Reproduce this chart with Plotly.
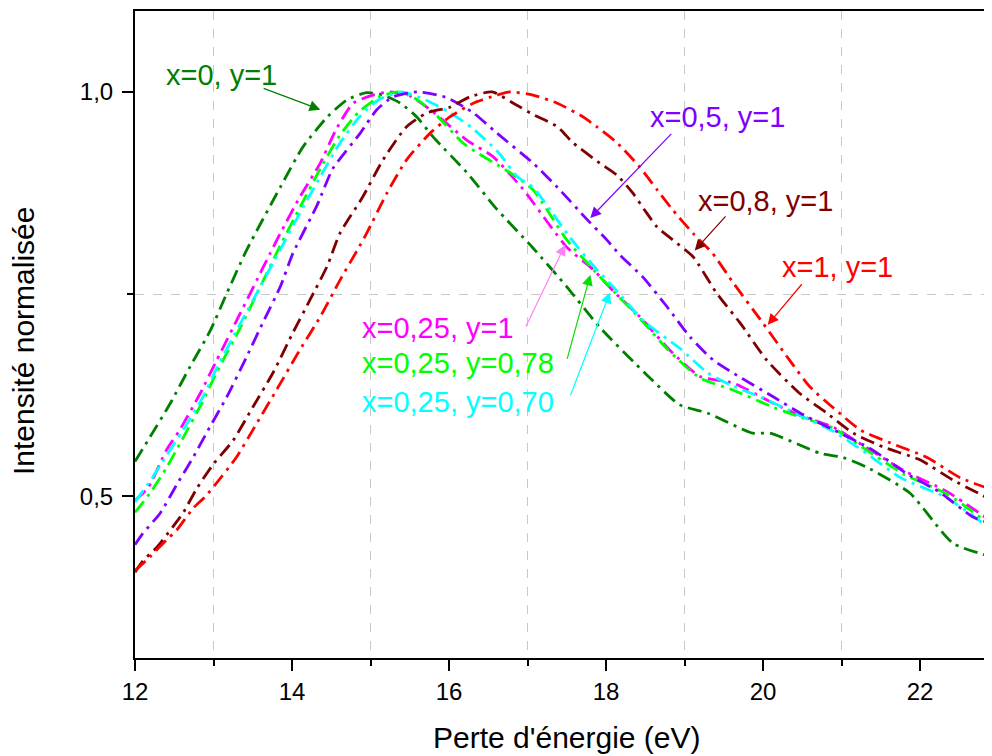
import plotly.graph_objects as go

# ---- data ----
E_x0 = [12.0, 12.19, 12.45, 12.7, 12.96, 13.17, 13.42, 13.85, 14.14, 14.45, 14.7, 14.95, 15.16, 15.38, 15.59, 15.8,
        16.23, 16.6, 17.07, 17.5, 17.92, 18.52, 18.94, 19.29, 19.87, 20.09, 20.73, 21.02, 21.32, 21.87, 22.42, 22.92]
I_x0 = [0.543, 0.573, 0.615, 0.66, 0.705, 0.751, 0.804, 0.882, 0.932, 0.969, 0.99, 0.999, 0.996, 0.986, 0.969, 0.944,
        0.90, 0.856, 0.807, 0.759, 0.709, 0.65, 0.613, 0.603, 0.578, 0.578, 0.553, 0.548, 0.536, 0.504, 0.442, 0.425]

E_x025 = [12.0, 12.17, 12.4, 12.57, 12.83, 13.04, 13.34, 13.55, 13.72, 13.85, 14.1, 14.36, 14.57, 14.78, 15.03, 15.25,
          15.5, 15.8, 16.23, 16.56, 16.94, 17.5, 17.84, 18.1, 18.43, 18.82, 19.2, 19.62, 20.13, 20.47, 20.9, 21.32,
          21.83, 22.34, 22.92]
I_x025 = [0.495, 0.511, 0.557, 0.582, 0.627, 0.668, 0.726, 0.767, 0.80, 0.825, 0.87, 0.912, 0.955, 0.986, 0.996, 1.0,
          0.995, 0.975, 0.94, 0.92, 0.88, 0.808, 0.78, 0.753, 0.722, 0.68, 0.648, 0.64, 0.615, 0.60, 0.585, 0.56,
          0.53, 0.506, 0.468]

E_x025_y078 = [12.0, 12.2, 12.4, 12.6, 12.85, 13.05, 13.35, 13.6, 13.85, 14.1, 14.36, 14.6, 14.85, 15.1, 15.35, 15.6,
               15.85, 16.2, 16.78, 17.07, 17.5, 17.84, 18.1, 18.43, 18.8, 19.2, 19.6, 20.13, 20.47, 20.9, 21.32, 21.8,
               22.34, 22.92]
I_x025_y078 = [0.48, 0.505, 0.535, 0.57, 0.615, 0.655, 0.71, 0.76, 0.81, 0.857, 0.905, 0.945, 0.975, 0.993, 1.0, 0.99,
               0.97, 0.935, 0.9, 0.879, 0.817, 0.78, 0.753, 0.72, 0.68, 0.646, 0.632, 0.61, 0.598, 0.584, 0.557, 0.527,
               0.503, 0.463]

E_x025_y070 = [12.0, 12.2, 12.4, 12.6, 12.85, 13.05, 13.35, 13.6, 13.85, 14.1, 14.36, 14.6, 14.85, 15.1, 15.4, 15.7,
               16.0, 16.3, 16.64, 16.87, 17.07, 17.29, 17.54, 17.84, 18.1, 18.5, 18.94, 19.29, 19.6, 19.96, 20.47,
               20.9, 21.32, 21.75, 22.34, 22.92]
I_x025_y070 = [0.493, 0.52, 0.55, 0.58, 0.62, 0.66, 0.715, 0.76, 0.805, 0.85, 0.895, 0.935, 0.968, 0.99, 1.0, 0.99,
               0.975, 0.955, 0.924, 0.895, 0.882, 0.854, 0.82, 0.785, 0.758, 0.715, 0.683, 0.653, 0.637, 0.623, 0.60,
               0.58, 0.553, 0.523, 0.498, 0.458]

E_x05 = [12.0, 12.1, 12.32, 12.53, 12.74, 12.95, 13.17, 13.42, 13.63, 13.85, 14.01, 14.32, 14.52, 14.87, 15.08, 15.29,
         15.6, 15.97, 16.31, 16.61, 17.07, 17.41, 17.76, 18.01, 18.18, 18.47, 18.78, 19.07, 19.37, 19.71, 20.13, 20.47,
         20.9, 21.4, 21.83, 22.25, 22.68, 22.92]
I_x05 = [0.44, 0.454, 0.479, 0.514, 0.548, 0.585, 0.623, 0.672, 0.715, 0.759, 0.80, 0.86, 0.905, 0.949, 0.978, 0.994,
         1.0, 0.993, 0.974, 0.949, 0.912, 0.879, 0.842, 0.817, 0.798, 0.771, 0.734, 0.697, 0.668, 0.647, 0.623, 0.603,
         0.582, 0.557, 0.528, 0.505, 0.474, 0.466]

E_x08 = [12.0, 12.1, 12.28, 12.48, 12.61, 12.79, 13.0, 13.25, 13.5, 13.76, 14.01, 14.23, 14.45, 14.61, 14.9, 15.16,
         15.46, 15.72, 16.01, 16.27, 16.55, 16.82, 17.07, 17.38, 17.58, 17.92, 18.14, 18.34, 18.52, 18.65, 18.85,
         19.11, 19.41, 19.71, 20.05, 20.47, 20.81, 21.15, 21.53, 22.0, 22.42, 22.92]
I_x08 = [0.406, 0.42, 0.437, 0.462, 0.479, 0.51, 0.54, 0.569, 0.61, 0.653, 0.702, 0.743, 0.785, 0.825, 0.87, 0.916,
         0.957, 0.974, 0.981, 0.994, 1.0, 0.986, 0.972, 0.957, 0.937, 0.912, 0.897, 0.875, 0.85, 0.833, 0.817,
         0.796, 0.751, 0.714, 0.668, 0.627, 0.603, 0.578, 0.561, 0.545, 0.52, 0.495]

E_x1 = [12.0, 12.19, 12.4, 12.53, 12.74, 12.89, 13.02, 13.29, 13.55, 13.8, 14.1, 14.36, 14.61, 14.83, 14.95, 15.21,
        15.46, 15.76, 16.01, 16.31, 16.61, 16.78, 17.07, 17.38, 17.71, 17.88, 18.14, 18.43, 18.65, 18.85, 19.11,
        19.36, 19.62, 20.0, 20.34, 20.6, 20.9, 21.24, 21.62, 22.09, 22.51, 22.92]
I_x1 = [0.408, 0.425, 0.446, 0.458, 0.485, 0.499, 0.514, 0.548, 0.59, 0.631, 0.681, 0.722, 0.767, 0.804, 0.825, 0.875,
        0.916, 0.949, 0.969, 0.986, 0.996, 1.0, 0.996, 0.986, 0.969, 0.957, 0.937, 0.907, 0.879, 0.854, 0.825,
        0.80, 0.764, 0.714, 0.668, 0.635, 0.609, 0.582, 0.566, 0.548, 0.523, 0.508]

series_names = ["x=0, y=1", "x=0,25, y=1", "x=0,25, y=0,78", "x=0,25, y=0,70", "x=0,5, y=1", "x=0,8, y=1", "x=1, y=1"]
series_E = [E_x0, E_x025, E_x025_y078, E_x025_y070, E_x05, E_x08, E_x1]
series_I = [I_x0, I_x025, I_x025_y078, I_x025_y070, I_x05, I_x08, I_x1]
series_colors = ["#008000", "#FF00FF", "#00FF00", "#00FFFF", "#8000FF", "#800000", "#FF0000"]

x_ticks = [12, 14, 16, 18, 20, 22]
y_tickvals = [0.5, 1.0]
y_ticktext = ["0,5", "1,0"]

x_title = "Perte d'énergie (eV)"
y_title = "Intensité normalisée"

# label positions (energy, intensity) and arrows (tail -> head)
label_pos = {
    "x=0, y=1": (13.096, 1.021, "center"),
    "x=0,5, y=1": (19.414, 0.969, "center"),
    "x=0,8, y=1": (20.038, 0.865, "center"),
    "x=1, y=1": (20.943, 0.783, "center"),
    "x=0,25, y=1": (14.866, 0.708, "left"),
    "x=0,25, y=0,78": (14.866, 0.665, "left"),
    "x=0,25, y=0,70": (14.866, 0.616, "left"),
}
arrows = {
    "x=0, y=1": (13.62, 1.005, 14.36, 0.978, "#008000"),
    "x=0,5, y=1": (18.85, 0.95, 17.80, 0.844, "#8000FF"),
    "x=0,8, y=1": (19.54, 0.848, 19.13, 0.804, "#800000"),
    "x=1, y=1": (20.51, 0.764, 20.06, 0.712, "#FF0000"),
    "x=0,25, y=1": (16.97, 0.708, 17.48, 0.811, "#FF80FF"),
    "x=0,25, y=0,78": (17.50, 0.668, 17.80, 0.774, "#00E000"),
    "x=0,25, y=0,70": (17.54, 0.623, 18.05, 0.752, "#00FFFF"),
}

FONT = "Liberation Sans, Arial, sans-serif"
# the page body has an 8px margin, so the figure is 8px smaller and offset
OFF = 8
W, H = 992 - OFF, 756 - OFF
ML, MR, MT, MB = 135 - OFF, 0, 11 - OFF, 98
PW, PH = W - ML - MR, H - MT - MB

fig = go.Figure()
for name, ex, iy, col in zip(series_names, series_E, series_I, series_colors):
    fig.add_trace(go.Scatter(
        x=ex, y=iy, mode="lines", name=name,
        line=dict(color=col, width=2.8, dash="14px,6px,3px,6px", shape="spline", smoothing=0.6),
    ))

for name, col in zip(series_names, series_colors):
    lx, ly, anc = label_pos[name]
    fig.add_annotation(x=lx, y=ly, xref="x", yref="y", text=name, showarrow=False,
                       xanchor=anc, yanchor="middle",
                       font=dict(family=FONT, size=29, color=col))
    tx, ty, hx, hy, acol = arrows[name]
    fig.add_annotation(x=hx, y=hy, ax=tx, ay=ty, xref="x", yref="y", axref="x", ayref="y",
                       text="", showarrow=True, arrowhead=2, arrowsize=1.8, arrowwidth=1.2,
                       arrowcolor=acol, standoff=0, startstandoff=0)

# axis titles placed as paper-referenced annotations (page pixel positions converted)
def px_to_paper(px, py):
    return (px - OFF - ML) / PW, (H - MB - (py - OFF)) / PH

tx_, ty_ = px_to_paper(567, 737)
fig.add_annotation(x=tx_, y=ty_, xref="paper", yref="paper",
                   text=x_title, showarrow=False, xanchor="center", yanchor="middle",
                   font=dict(family=FONT, size=30, color="black"))
tx_, ty_ = px_to_paper(23, 341)
fig.add_annotation(x=tx_, y=ty_, xref="paper", yref="paper",
                   text=y_title, showarrow=False, xanchor="center", yanchor="middle", textangle=-90,
                   font=dict(family=FONT, size=30, color="black"))

fig.update_layout(
    width=W, height=H,
    margin=dict(l=ML, r=MR, t=MT, b=MB, autoexpand=False),
    plot_bgcolor="white", paper_bgcolor="white",
    showlegend=False,
    font=dict(family=FONT, size=24, color="black"),
)
fig.update_xaxes(
    range=[12, 22.917], tickvals=x_ticks, ticktext=[str(v) for v in x_ticks],
    showgrid=False, zeroline=False, automargin=False,
    showline=True, linecolor="black", linewidth=2, mirror=True,
    ticks="outside", ticklen=11, tickwidth=2, tickcolor="black",
    ticklabelstandoff=0,
    tickfont=dict(family=FONT, size=24),
    minor=dict(tick0=13, dtick=2, ticks="outside", ticklen=6, tickwidth=2, tickcolor="black",
               showgrid=True, gridcolor="#c8c8c8", griddash="dash", gridwidth=1),
)
fig.update_yaxes(
    range=[0.30, 1.10], tickvals=y_tickvals, ticktext=y_ticktext,
    showgrid=False, zeroline=False, automargin=False,
    showline=True, linecolor="black", linewidth=2, mirror=False,
    ticks="outside", ticklen=11, tickwidth=2, tickcolor="black",
    ticklabelstandoff=4,
    tickfont=dict(family=FONT, size=24),
    minor=dict(tick0=0.25, dtick=0.5, ticks="outside", ticklen=6, tickwidth=2, tickcolor="black",
               showgrid=True, gridcolor="#c8c8c8", griddash="dash", gridwidth=1),
)

fig.write_html("out.html")
